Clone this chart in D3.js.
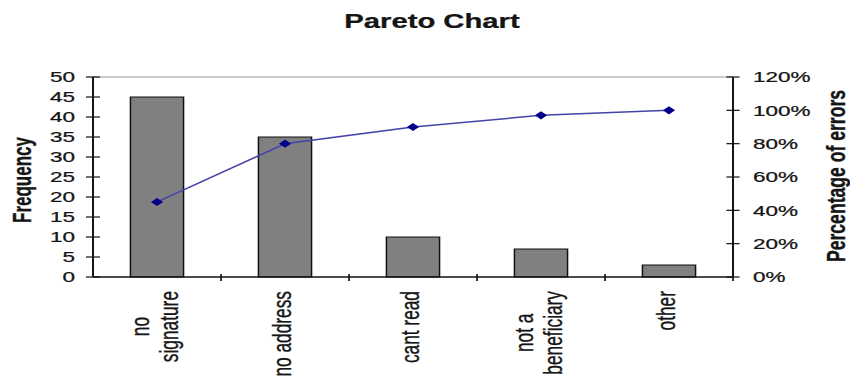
<!DOCTYPE html>
<html>
<head>
<meta charset="utf-8">
<script src="https://cdn.jsdelivr.net/npm/d3@7"></script>
<style>
  html, body { margin: 0; padding: 0; background: #fff; }
  svg { display: block; }
  text { font-family: 'Liberation Sans', Arial, sans-serif; fill: #151515; stroke: #151515; stroke-width: 0.25; }
</style>
</head>
<body>
<svg id="pareto" width="850" height="376"></svg>
<script>
// data
const categories = ['no signature', 'no address', 'cant read', 'not a beneficiary', 'other']
const labelLines = [['no', 'signature'], ['no address'], ['cant read'], ['not a', 'beneficiary'], ['other']]
const frequency = [45, 35, 10, 7, 3]
const cumulativePct = [45, 80, 90, 97, 100]
const freqTicks = [0, 5, 10, 15, 20, 25, 30, 35, 40, 45, 50]
const pctTicks = [0, 20, 40, 60, 80, 100, 120]

// the reference is stretched sideways, so draw in a narrower space and stretch it
const stretch = 1.5
const W = 850 / stretch, H = 376
const svg = d3.select('#pareto')
  .attr('viewBox', '0 0 ' + W + ' ' + H)
  .attr('preserveAspectRatio', 'none')

const margin = { left: 93 / stretch, right: W - 733 / stretch, top: 77, bottom: H - 277 }
const x0 = margin.left, x1 = W - margin.right
const y0 = H - margin.bottom, y1 = margin.top

const x = d3.scaleBand().domain(categories).range([x0, x1]).padding(0)
const yL = d3.scaleLinear().domain([0, 50]).range([y0, y1])
const yR = d3.scaleLinear().domain([0, 120]).range([y0, y1])
const barW = x.bandwidth() * 0.415

// title
svg.append('text')
  .attr('x', 432 / stretch).attr('y', 28)
  .attr('text-anchor', 'middle')
  .attr('font-size', 19.5).attr('font-weight', 'bold')
  .text('Pareto Chart')

// plot area top border
svg.append('line')
  .attr('x1', x0).attr('x2', x1).attr('y1', y1).attr('y2', y1)
  .attr('stroke', '#999').attr('stroke-width', 1)

// bars
svg.selectAll('.bar')
  .data(categories)
  .enter()
  .append('rect')
  .attr('class', 'bar')
  .attr('x', (d) => x(d) + (x.bandwidth() - barW) / 2)
  .attr('y', (d, i) => yL(frequency[i]))
  .attr('width', barW)
  .attr('height', (d, i) => y0 - yL(frequency[i]))
  .attr('fill', '#808080')
  .attr('stroke', '#111')
  .attr('stroke-width', 1)

// left axis
const left = svg.append('g').attr('transform', 'translate(' + x0 + ',0)')
left.append('line').attr('y1', y0).attr('y2', y1).attr('stroke', '#111').attr('stroke-width', 1.3)
left.selectAll('.tk')
  .data(freqTicks)
  .enter()
  .append('line')
  .attr('x1', -4.7).attr('x2', 4.7)
  .attr('y1', (d) => yL(d)).attr('y2', (d) => yL(d))
  .attr('stroke', '#111').attr('stroke-width', 1.2)
left.selectAll('.lb')
  .data(freqTicks)
  .enter()
  .append('text')
  .attr('x', 75 / stretch - x0)
  .attr('y', (d) => yL(d))
  .attr('dy', '0.36em')
  .attr('text-anchor', 'end')
  .attr('font-size', 15)
  .text((d) => d)

// right axis
const right = svg.append('g').attr('transform', 'translate(' + x1 + ',0)')
right.append('line').attr('y1', y0).attr('y2', y1).attr('stroke', '#111').attr('stroke-width', 1.3)
right.selectAll('.tk')
  .data(pctTicks)
  .enter()
  .append('line')
  .attr('x1', -4.4).attr('x2', 4.4)
  .attr('y1', (d) => yR(d)).attr('y2', (d) => yR(d))
  .attr('stroke', '#111').attr('stroke-width', 1.2)
right.selectAll('.lb')
  .data(pctTicks)
  .enter()
  .append('text')
  .attr('x', 753 / stretch - x1)
  .attr('y', (d) => yR(d))
  .attr('dy', '0.36em')
  .attr('font-size', 15)
  .text((d) => d + '%')

// bottom axis
const bottom = svg.append('g').attr('transform', 'translate(0,' + y0 + ')')
bottom.append('line').attr('x1', x0).attr('x2', x1).attr('stroke', '#111').attr('stroke-width', 1.3)
bottom.selectAll('.tk')
  .data(categories)
  .enter()
  .append('line')
  .attr('x1', (d) => x(d) + x.step())
  .attr('x2', (d) => x(d) + x.step())
  .attr('y1', -3).attr('y2', 4)
  .attr('stroke', '#111').attr('stroke-width', 1.1)

// category labels, rotated; block anchored at the top, lines centred in the block
const lh = 18.7
const catSize = 17.3
svg.selectAll('.cat')
  .data(categories)
  .enter()
  .append('text')
  .attr('class', 'cat')
  .attr('text-anchor', 'middle')
  .attr('font-size', catSize)
  .each(function (d, i) {
    const lines = labelLines[i]
    const t = d3.select(this)
    lines.forEach((s, j) => {
      t.append('tspan')
        .attr('y', (j - (lines.length - 1) / 2) * lh + catSize * 0.25)
        .text(s)
    })
    let maxLen = 0
    t.selectAll('tspan').each(function () {
      maxLen = Math.max(maxLen, this.getComputedTextLength())
    })
    t.selectAll('tspan').attr('x', -maxLen / 2)
    t.attr('transform', 'translate(' + (x(d) + x.bandwidth() / 2) + ',291) rotate(-90)')
  })

// axis titles
svg.append('text')
  .attr('transform', 'translate(' + (22 / stretch) + ',180) rotate(-90)')
  .attr('text-anchor', 'middle')
  .attr('dy', '0.35em')
  .attr('font-size', 17).attr('font-weight', 'bold')
  .text('Frequency')

svg.append('text')
  .attr('transform', 'translate(' + (836 / stretch) + ',176) rotate(-90)')
  .attr('text-anchor', 'middle')
  .attr('dy', '0.35em')
  .attr('font-size', 17.6).attr('font-weight', 'bold')
  .text('Percentage of errors')

// cumulative line
const cx = (d) => x(d) + x.bandwidth() / 2
const line = d3.line()
  .x((d) => cx(d))
  .y((d, i) => yR(cumulativePct[i]))

svg.append('path')
  .datum(categories)
  .attr('d', line)
  .attr('fill', 'none')
  .attr('stroke', '#4444a8')
  .attr('stroke-width', 1.5)

svg.selectAll('.pt')
  .data(categories)
  .enter()
  .append('path')
  .attr('class', 'pt')
  .attr('transform', (d, i) => 'translate(' + cx(d) + ',' + yR(cumulativePct[i]) + ')')
  .attr('d', d3.symbol().type(d3.symbolDiamond2).size(42))
  .attr('fill', '#000088')
</script>
</body>
</html>
